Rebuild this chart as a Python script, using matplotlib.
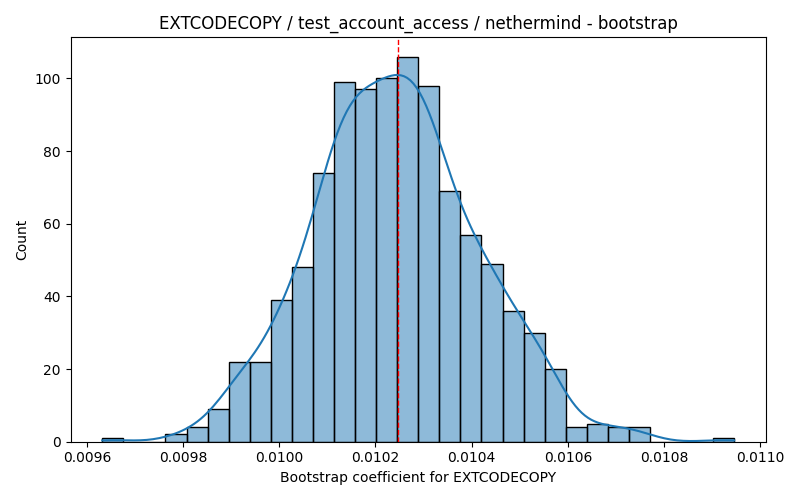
import numpy as np
import matplotlib
matplotlib.use("Agg")
import matplotlib.pyplot as plt
import seaborn as sns

# bootstrap histogram (30 bins, 1000 resamples)
bin_lo = 0.009632
bin_hi = 0.010946
counts = [1, 0, 0, 2, 4, 9, 22, 22, 39, 48,
          74, 99, 97, 100, 106, 98, 69, 57, 49, 36,
          30, 20, 4, 5, 4, 4, 0, 0, 0, 1]
point_estimate = 0.010247

title = "EXTCODECOPY / test_account_access / nethermind - bootstrap"
xlabel = "Bootstrap coefficient for EXTCODECOPY"

edges = np.linspace(bin_lo, bin_hi, len(counts) + 1)
centers = (edges[:-1] + edges[1:]) / 2
# rebuild the resamples from the binned counts
samples = np.repeat(centers, counts)

fig, ax = plt.subplots(figsize=(8, 5), dpi=100)
# clip keeps the kde inside the histogram range like the original
sns.histplot(samples, bins=edges, kde=True, ax=ax,
             kde_kws={"cut": 1, "clip": (bin_lo, bin_hi)})
ax.axvline(point_estimate, color="red", linestyle="--", linewidth=1)

ax.set_title(title)
ax.set_xlabel(xlabel)
ax.set_ylabel("Count")

plt.tight_layout()
plt.savefig("out.png", dpi=100)
plt.close()
